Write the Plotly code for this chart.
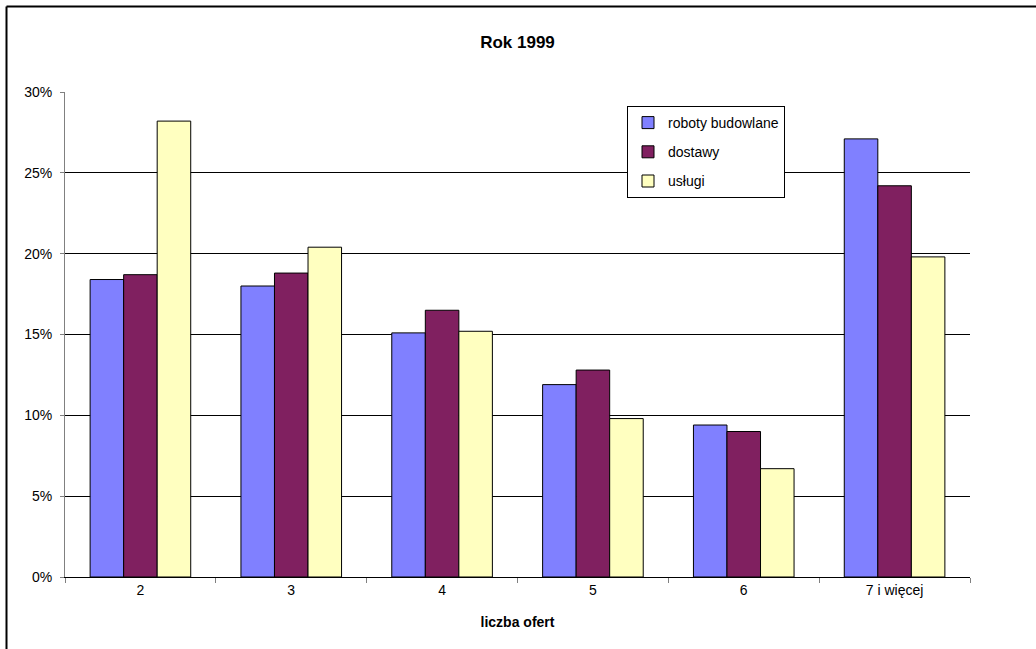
import plotly.graph_objects as go

# Udział postępowań wg liczby złożonych ofert, rok 1999
categories = ["2", "3", "4", "5", "6", "7 i więcej"]
roboty_budowlane = [18.4, 18.0, 15.1, 11.9, 9.4, 27.1]
dostawy = [18.7, 18.8, 16.5, 12.8, 9.0, 24.2]
uslugi = [28.2, 20.4, 15.2, 9.8, 6.7, 19.8]

y_ticks = [0, 5, 10, 15, 20, 25, 30]
y_tick_labels = [f"{v}%" for v in y_ticks]

series = [
    ("roboty budowlane", roboty_budowlane, "#8080FF"),
    ("dostawy", dostawy, "#802060"),
    ("usługi", uslugi, "#FFFFC0"),
]

FONT = "Liberation Sans, Arial, sans-serif"

fig = go.Figure()
for i, (name, vals, color) in enumerate(series):
    fig.add_trace(go.Bar(
        x=categories,
        y=vals,
        name=name,
        legendgroup=f"g{i}",
        marker=dict(color=color, line=dict(color="black", width=1)),
    ))

W, H = 1036, 649
ml, mr, mt, mb = 65, 66, 92, 72
pw = W - ml - mr
ph = H - mt - mb

def px_to_paper_x(px):
    return (px - ml) / pw

def px_to_paper_y(py):
    return (H - mb - py) / ph

fig.update_layout(
    width=W,
    height=H,
    margin=dict(l=ml, r=mr, t=mt, b=mb, pad=0),
    paper_bgcolor="white",
    plot_bgcolor="white",
    barmode="group",
    bargap=0.333,
    bargroupgap=0,
    font=dict(family=FONT, size=14, color="black"),
    title=dict(
        text="<b>Rok 1999</b>",
        x=0.5,
        xanchor="center",
        xref="paper",
        y=1 - 42 / H,
        yanchor="middle",
        yref="container",
        font=dict(family=FONT, size=17, color="black"),
    ),
    legend=dict(
        x=px_to_paper_x(627),
        y=px_to_paper_y(106),
        xanchor="left",
        yanchor="top",
        bgcolor="white",
        bordercolor="black",
        borderwidth=1,
        font=dict(family=FONT, size=14, color="black"),
        tracegroupgap=8,
        itemwidth=30,
    ),
    xaxis=dict(
        type="category",
        showgrid=False,
        showline=True,
        linecolor="black",
        linewidth=1,
        ticks="outside",
        tickson="boundaries",
        ticklen=5,
        tickcolor="#808080",
        tickwidth=1,
        tickfont=dict(family=FONT, size=14, color="black"),
        title=dict(
            text="<b>liczba ofert</b>",
            font=dict(family=FONT, size=14, color="black"),
            standoff=20,
        ),
    ),
    yaxis=dict(
        range=[0, 30],
        tickvals=y_ticks,
        ticktext=y_tick_labels,
        showgrid=True,
        gridcolor="black",
        gridwidth=1,
        zeroline=False,
        showline=True,
        linecolor="#808080",
        linewidth=1,
        ticks="outside",
        ticklen=4,
        tickcolor="#808080",
        tickwidth=1,
        ticklabelstandoff=5,
        tickfont=dict(family=FONT, size=14, color="black"),
    ),
)

# Ramka wokół całego wykresu
frame_x = px_to_paper_x(6.5)
frame_y = px_to_paper_y(6.5)
fig.add_shape(type="line", xref="paper", yref="paper",
              x0=frame_x, x1=frame_x, y0=px_to_paper_y(H + 20), y1=frame_y,
              line=dict(color="black", width=2))
fig.add_shape(type="line", xref="paper", yref="paper",
              x0=frame_x, x1=px_to_paper_x(W + 20), y0=frame_y, y1=frame_y,
              line=dict(color="black", width=2))

fig.write_html("out.html")
